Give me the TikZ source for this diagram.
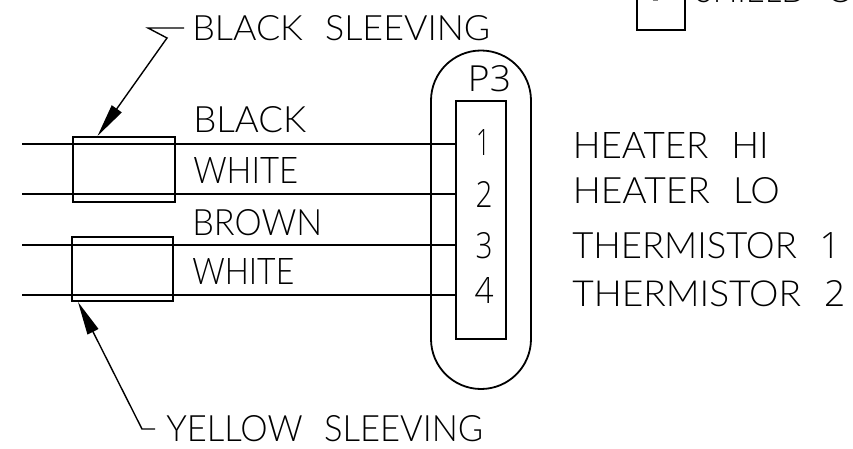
\documentclass[tikz,border=0pt]{standalone}
\usepackage{graphicx}
\usepackage{fontspec}
\setmainfont{Lato Light}
\newfontfamily\numfont{Open Sans Light}
\usetikzlibrary{arrows.meta}
\newcommand{\fitlabel}[3]{\resizebox{\dimexpr #1pt*3/4\relax}{\dimexpr #2pt*3/4\relax}{#3}}
\newcommand{\gap}{\hspace{0.62em}}
\tikzset{
  wire/.style={line width=1.35pt,black},
  box/.style={line width=1.35pt,black},
  lead/.style={line width=1.05pt,black},
  lbl/.style={inner sep=0pt,anchor=base west,text=black},
  pin/.style={inner sep=0pt,anchor=base,text=black,font=\numfont},
  tip/.style={-{Triangle[length=25pt,width=9pt]}}
}
\begin{document}
\begin{tikzpicture}[x=0.75pt,y=-0.75pt]
\useasboundingbox (0,0) rectangle (853,449);
% connector block and shell
\node[draw,box,minimum width=37.5pt,minimum height=178.5pt,inner sep=0pt] (conn) at (481,220) {};
\draw[box] (431,100.5) arc[start angle=180,end angle=360,x radius=50,y radius=50] -- (531,339) arc[start angle=0,end angle=180,x radius=50,y radius=50] -- cycle;
% wires
\coordinate (w1) at (22,144); \coordinate (w2) at (22,194);
\coordinate (w3) at (22,245); \coordinate (w4) at (22,295);
\draw[wire] (w1)--(w1-|conn.west);
\draw[wire] (w2)--(w2-|conn.west);
\draw[wire] (w3)--(w3-|conn.west);
\draw[wire] (w4)--(w4-|conn.west);
% sleeves
\node[draw,box,minimum width=76.5pt,minimum height=48.75pt,inner sep=0pt] (s1) at (123.7,169.5) {};
\node[draw,box,minimum width=75.75pt,minimum height=48.5pt,inner sep=0pt] (s2) at (122.2,269) {};
% top-right box
\draw[box] (636.7,-5) -- (636.7,30) -- (685,30) -- (685,-5);
\draw[line width=0.75pt,gray] (652.5,0.4) -- (657.5,0.4);
% leaders
\coordinate (a1) at (184,28); \coordinate (a2) at (148,28); \coordinate (a3) at (167,38);
\coordinate (a4) at (97.5,136);
\draw[lead,tip] (a1)--(a2)--(a3)--(a4);
\coordinate (b1) at (155,429); \coordinate (b2) at (142,429);
\coordinate (b4) at (78,302);
\draw[lead,tip] (b1)--(b2)--(b4);
% labels
\node[lbl] (t1) at (192,41) {\fitlabel{298}{25}{BLACK\gap SLEEVING}};
\node[lbl] (t2) at (193,132.7) {\fitlabel{113}{26}{BLACK}};
\node[lbl] (t3) at (193,183) {\fitlabel{105}{26}{WHITE}};
\node[lbl] (t4) at (192,235) {\fitlabel{130}{26}{BROWN}};
\node[lbl] (t5) at (192,284.3) {\fitlabel{102}{26}{WHITE}};
\node[lbl] (t6) at (166,441.7) {\fitlabel{317}{26}{YELLOW\gap SLEEVING}};
\node[lbl] (t7) at (572.5,158) {\fitlabel{196}{26}{HEATER\gap HI}};
\node[lbl] (t8) at (572.5,204) {\fitlabel{207}{26}{HEATER\gap LO}};
\node[lbl] (t9) at (572,258) {\fitlabel{268}{26}{THERMISTOR\gap {\numfont 1}}};
\node[lbl] (t10) at (572,306) {\fitlabel{273}{26}{THERMISTOR\gap {\numfont 2}}};
\node[lbl] (t11) at (695,3) {\fitlabel{180}{26}{SHIELD\gap GN}};
\node[pin] (p0) at (489.5,92) {\fitlabel{43}{26}{P3}};
\node[pin] (p1) at (483,155.5) {\fitlabel{14}{26}{1}};
\node[pin] (p2) at (484,207.5) {\fitlabel{17}{26}{2}};
\node[pin] (p3) at (484,258.5) {\fitlabel{17}{26}{3}};
\node[pin] (p4) at (484,303) {\fitlabel{19}{26}{4}};
\end{tikzpicture}
\end{document}
